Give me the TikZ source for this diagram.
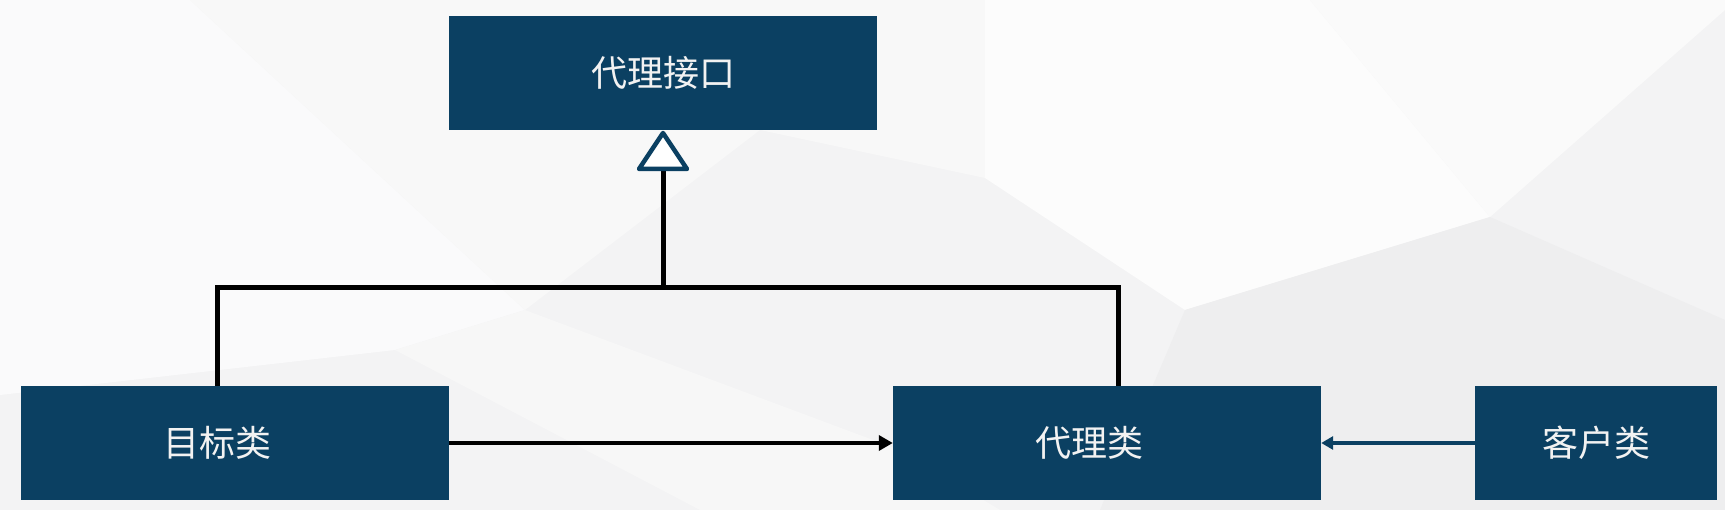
\documentclass[tikz,border=0pt]{standalone}
\usepackage{fontspec}
\newfontfamily\cjk{Noto Sans CJK SC}
\usetikzlibrary{arrows.meta}
\definecolor{boxblue}{HTML}{0B4062}
\definecolor{boxtext}{HTML}{F2F2F2}
\definecolor{bgbase}{HTML}{F3F3F4}
\begin{document}
\begin{tikzpicture}[x=1pt,y=-1pt,
  cls/.style={fill=boxblue, text=boxtext, inner sep=0pt, minimum height=114pt,
    font=\cjk\fontsize{36}{40}\selectfont},
  link/.style={draw=black, line width=5pt},
  assoc/.style={draw=black, line width=4.5pt, -{Triangle[length=14pt,width=15pt]}},
  use/.style={draw=boxblue, line width=4pt, -{Triangle[length=12pt,width=13pt]}},
  realize/.style={draw=boxblue, fill=white, line width=4.5pt, line join=round}]
\useasboundingbox (0,0) rectangle (1725,510);
% background
\fill[bgbase] (0,0) rectangle (1725,510);
\fill[white!60!bgbase] (0,0) -- (190,0) -- (525,310) -- (395,350) -- (0,395) -- cycle;
\fill[white!40!bgbase] (190,0) -- (985,0) -- (985,178) -- (760,130) -- (525,310) -- cycle;
\fill[white!75!bgbase] (985,0) -- (1310,0) -- (1490,217) -- (1185,310) -- (985,178) -- cycle;
\fill[white!55!bgbase] (1310,0) -- (1725,0) -- (1725,10) -- (1490,217) -- cycle;
\fill[black!2!bgbase] (1490,217) -- (1725,320) -- (1725,510) -- (1100,510) -- (1185,310) -- cycle;
\fill[white!30!bgbase] (525,310) -- (900,450) -- (1000,510) -- (700,510) -- (395,350) -- cycle;
% class boxes
\node[cls, minimum width=428pt] (ifc) at (663,73) {代理接口};
\node[cls, minimum width=428pt] (target) at (235,443) {目标类\hspace*{36pt}};
\node[cls, minimum width=428pt] (proxy) at (1107,443) {代理类\hspace*{36pt}};
\node[cls, minimum width=242pt] (client) at (1596,443) {客户类};
% realization hierarchy
\coordinate (tribase) at (663,170);
\coordinate (junction) at (663,288);
\coordinate (lcorner) at (217,288);
\coordinate (rcorner) at (1118,288);
\draw[link] (tribase) -- (junction);
\draw[link, line cap=rect] (lcorner) -- (rcorner);
\draw[link] (lcorner) -- (lcorner |- target.north);
\draw[link] (rcorner) -- (rcorner |- proxy.north);
\draw[realize] (663,133) -- (687,169) -- (639,169) -- cycle;
% associations
\draw[assoc] (target.east) -- (proxy.west);
\draw[use] (client.west) -- (proxy.east);
\end{tikzpicture}
\end{document}
